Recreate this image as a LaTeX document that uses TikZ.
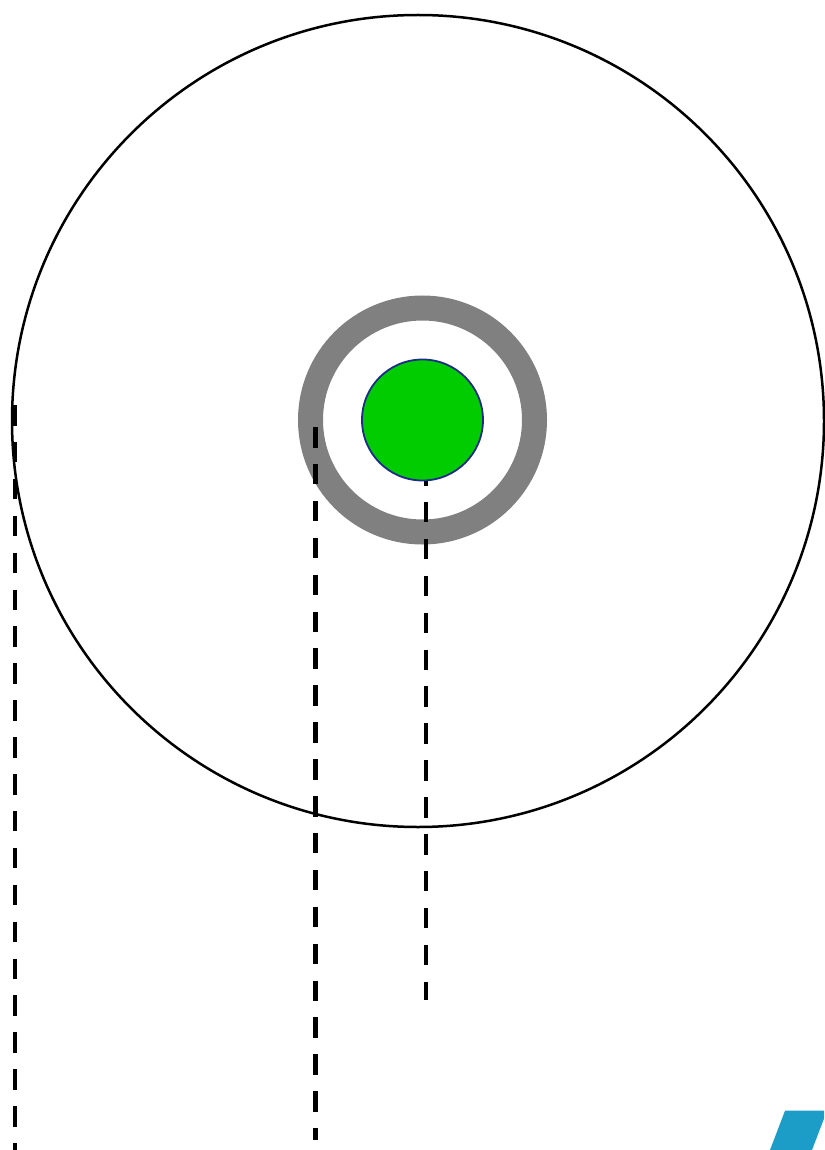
\documentclass[tikz,border=0pt]{standalone}
\begin{document}
\begin{tikzpicture}[x=1pt,y=-1pt,
  outer/.style={draw=black,line width=2.5pt},
  ringstyle/.style={draw=ringgray,line width=25pt},
  core/.style={fill=coregreen,draw=corenavy,line width=1.8pt},
  dashline/.style={draw=black,line width=4.5pt,dash pattern=on 20.5pt off 16.4pt},
  tab/.style={fill=tabblue,draw=none}]
\definecolor{ringgray}{HTML}{808080}
\definecolor{coregreen}{HTML}{00CC00}
\definecolor{corenavy}{HTML}{1F2A8A}
\definecolor{tabblue}{HTML}{1B9DC8}
\useasboundingbox (0,0) rectangle (824,1150);
\coordinate (C) at (418,421);
\coordinate (R) at (422.5,420);
% outer circle
\draw[outer] (C) circle[radius=406];
% gray ring
\draw[ringstyle] (R) circle[radius=112];
% dashed lines
\coordinate (a1) at (15,405);
\coordinate (a2) at (15,1152);
\coordinate (b1) at (315.7,427);
\coordinate (b2) at (315.7,1140);
\coordinate (c1) at (425.8,465);
\coordinate (c2) at (425.8,1000);
\draw[dashline] (a1) -- (a2);
\draw[dashline] (b1) -- (b2);
\draw[dashline] (c1) -- (c2);
% green core
\draw[core] (R) circle[radius=60.5];
% blue tab
\begin{scope}
\clip (0,0) rectangle (824,1150);
\coordinate (t1) at (770,1150);
\coordinate (t2) at (785,1110.7);
\coordinate (t3) at (827,1110.7);
\coordinate (t4) at (812,1150);
\fill[tab] (t1) -- (t2) -- (t3) -- (t4) -- cycle;
\end{scope}
\end{tikzpicture}
\end{document}
